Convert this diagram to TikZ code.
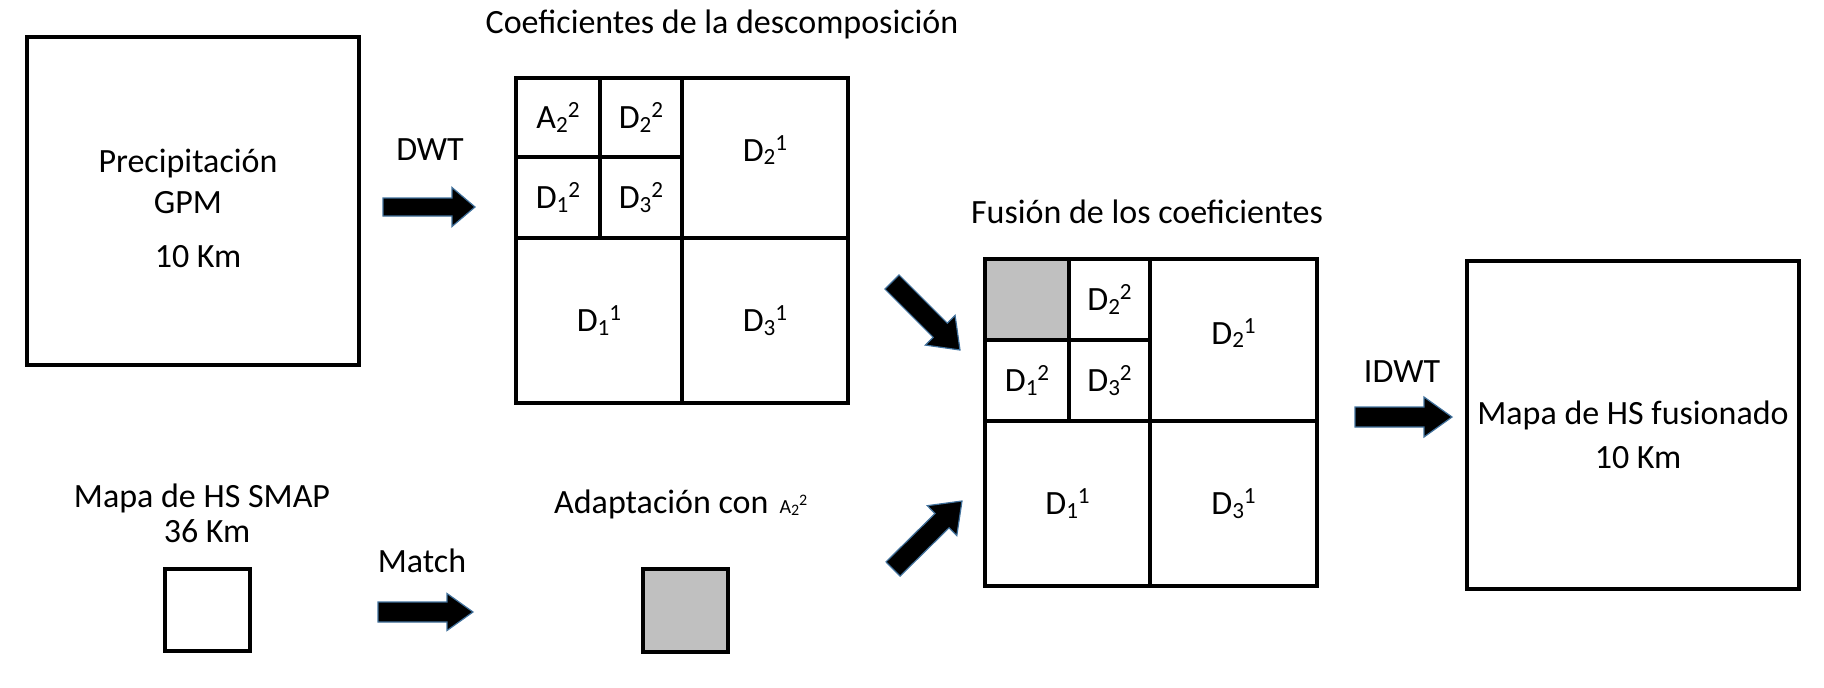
\documentclass[tikz,border=0pt]{standalone}
\usepackage{fontspec}
\usepackage{graphicx}
\setmainfont{Carlito}
\usetikzlibrary{calc}
\definecolor{arrowedge}{RGB}{65,113,156}
\definecolor{cellgray}{RGB}{192,192,192}
\tikzset{
  txt/.style={inner sep=0pt, font=\fontsize{34}{35}\selectfont},
  box/.style={draw=black, line width=4.5pt, inner sep=0pt, font=\fontsize{34}{35}\selectfont},
  blk/.style={fill=black, draw=arrowedge, line width=1.2pt, line join=miter},
}
\newcommand\blkarrow[5]{%
  \coordinate (hb) at ($(#2)!#5!(#1)$);
  \filldraw[blk] ($(#1)!#3!90:(#2)$) -- ($(hb)!#3!90:(#2)$) -- ($(hb)!#4!90:(#2)$) -- (#2)
    -- ($(hb)!#4!-90:(#2)$) -- ($(hb)!#3!-90:(#2)$) -- ($(#1)!#3!-90:(#2)$) -- cycle;
}
\newcommand\lab[3]{#1\raisebox{-0.1em}{\scalebox{0.68}{#2}}\raisebox{0.33em}{\scalebox{0.68}{#3}}}
\begin{document}
\begin{tikzpicture}[x=1pt,y=-1pt]
\useasboundingbox (0,0) rectangle (1824,688);
% input box
\node[box, minimum width=332pt, minimum height=328pt] (gpm) at (193,201) {};
\node[txt, anchor=base] (gpm1) at (188,172) {Precipitación};
\node[txt, anchor=base] (gpm2) at (188,213) {GPM};
\node[txt, anchor=base] (gpm3) at (198,267) {10 Km};
% DWT
\node[txt, anchor=base] (dwt) at (430,160) {DWT};
\coordinate (dwtT) at (383,207); \coordinate (dwtP) at (475,207);
\blkarrow{dwtT}{dwtP}{9pt}{19.5pt}{23pt}
% decomposition grid
\node[txt, anchor=base] (dectitle) at (722,34) {Coeficientes de la descomposición};
\node[box, minimum width=84pt, minimum height=79pt] (dA22) at (558,117.5) {\lab{A}{2}{2}};
\node[box, minimum width=82pt, minimum height=79pt] (dD22) at (641,117.5) {\lab{D}{2}{2}};
\node[box, minimum width=84pt, minimum height=81pt] (dD12) at (558,197.5) {\lab{D}{1}{2}};
\node[box, minimum width=82pt, minimum height=81pt] (dD32) at (641,197.5) {\lab{D}{3}{2}};
\node[box, minimum width=166pt, minimum height=160pt] (dD21) at (765,158) {};
\node[txt] at ([yshift=8pt]dD21.center) {\lab{D}{2}{1}};
\node[box, minimum width=166pt, minimum height=165pt] (dD11) at (599,320.5) {\lab{D}{1}{1}};
\node[box, minimum width=166pt, minimum height=165pt] (dD31) at (765,320.5) {\lab{D}{3}{1}};
% fusion grid
\node[txt, anchor=base] (fustitle) at (1147,223) {Fusión de los coeficientes};
\node[box, fill=cellgray, minimum width=84pt, minimum height=81pt] (fA) at (1027,299.5) {};
\node[box, minimum width=81pt, minimum height=81pt] (fD22) at (1109.5,299.5) {\lab{D}{2}{2}};
\node[box, minimum width=84pt, minimum height=81pt] (fD12) at (1027,380.5) {\lab{D}{1}{2}};
\node[box, minimum width=81pt, minimum height=81pt] (fD32) at (1109.5,380.5) {\lab{D}{3}{2}};
\node[box, minimum width=167pt, minimum height=162pt] (fD21) at (1233.5,340) {};
\node[txt] at ([yshift=7pt]fD21.center) {\lab{D}{2}{1}};
\node[box, minimum width=165pt, minimum height=165pt] (fD11) at (1067.5,503.5) {\lab{D}{1}{1}};
\node[box, minimum width=167pt, minimum height=165pt] (fD31) at (1233.5,503.5) {\lab{D}{3}{1}};
% diagonal arrows
\coordinate (upT) at (892,282); \coordinate (upP) at (960,350);
\blkarrow{upT}{upP}{10pt}{21pt}{28pt}
\coordinate (loT) at (893,569); \coordinate (loP) at (962,501);
\blkarrow{loT}{loP}{10pt}{21pt}{28pt}
% IDWT
\node[txt, anchor=base] (idwt) at (1402,382) {IDWT};
\coordinate (idT) at (1355,417); \coordinate (idP) at (1452,417);
\blkarrow{idT}{idP}{10pt}{20pt}{28pt}
% output
\node[box, minimum width=332pt, minimum height=328pt] (out) at (1633,425) {};
\node[txt, anchor=base] (out1) at (1633,424) {Mapa de HS fusionado};
\node[txt, anchor=base] (out2) at (1638,468) {10 Km};
% bottom row
\node[txt, anchor=base] (smap1) at (202,507) {Mapa de HS SMAP};
\node[txt, anchor=base] (smap2) at (207,542) {36 Km};
\node[box, minimum width=85pt, minimum height=82pt] (smap) at (207.5,610) {};
\node[txt, anchor=base] (match) at (422,572) {Match};
\coordinate (mT) at (378,612); \coordinate (mP) at (473,612);
\blkarrow{mT}{mP}{10pt}{18.5pt}{26pt}
\node[txt, anchor=base west] (adap) at (554,513) {Adaptación con\hspace{11pt}{\fontsize{20}{20}\selectfont A\raisebox{-2pt}{\fontsize{16}{16}\selectfont 2}\raisebox{8pt}{\fontsize{16}{16}\selectfont 2}}};
\node[box, fill=cellgray, minimum width=85pt, minimum height=83pt] (adbox) at (685.5,610.5) {};
\end{tikzpicture}
\end{document}
